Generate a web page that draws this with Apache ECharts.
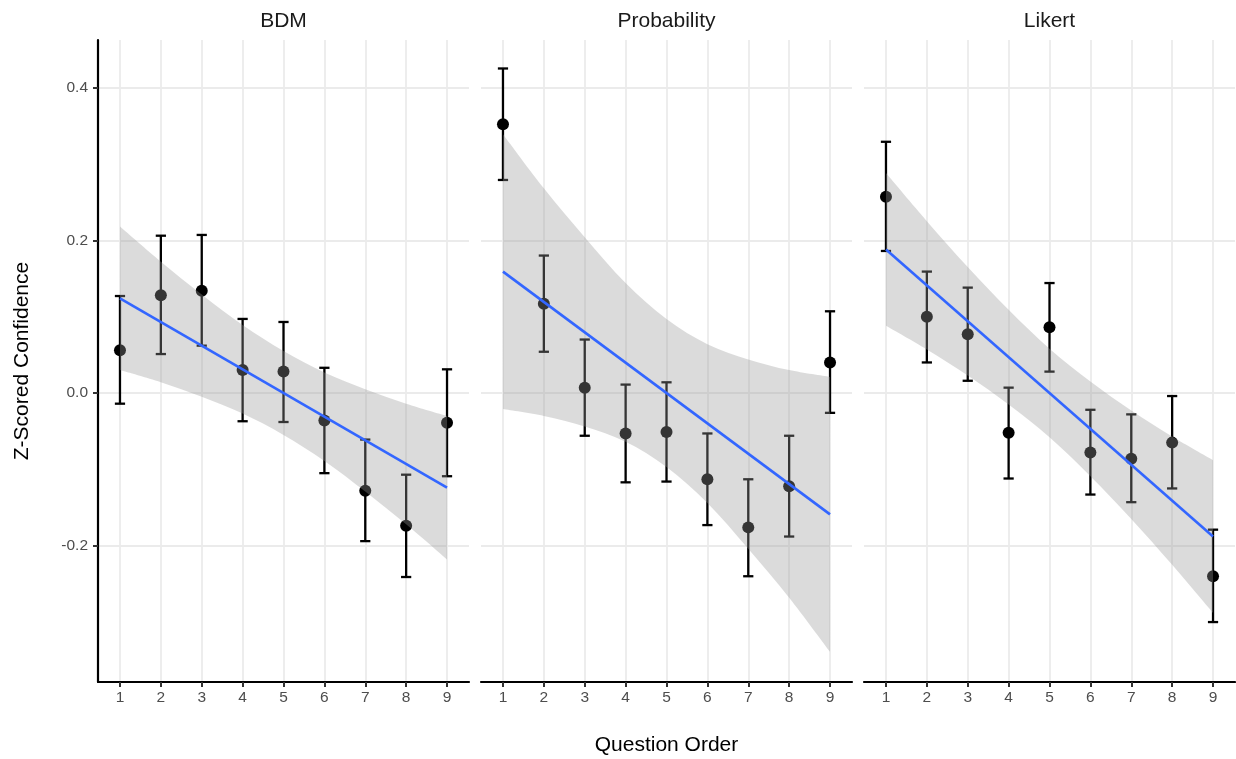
<!DOCTYPE html>
<html>
<head>
<meta charset="utf-8">
<title>Z-Scored Confidence by Question Order</title>
<script src="https://cdn.jsdelivr.net/npm/echarts@6/dist/echarts.min.js"></script>
<style>
  html, body { margin: 0; padding: 0; background: #ffffff; }
  #chart { width: 1236px; height: 759px; }
</style>
</head>
<body>
<div id="chart"></div>
<script>
// ---- data ----
const questionOrder = [1, 2, 3, 4, 5, 6, 7, 8, 9];
const panelNames = ['BDM', 'Probability', 'Likert'];
const xTicks = [1, 2, 3, 4, 5, 6, 7, 8, 9];
const yTicks = [-0.2, 0.0, 0.2, 0.4];

// mean confidence with error-bar limits
const bdmMean  = [0.056, 0.128, 0.134, 0.030, 0.028, -0.036, -0.128, -0.174, -0.039];
const bdmLow   = [-0.014, 0.051, 0.062, -0.037, -0.038, -0.105, -0.194, -0.241, -0.109];
const bdmHigh  = [0.127, 0.206, 0.207, 0.097, 0.093, 0.033, -0.061, -0.107, 0.031];

const probMean = [0.352, 0.117, 0.007, -0.053, -0.051, -0.113, -0.176, -0.122, 0.040];
const probLow  = [0.279, 0.054, -0.056, -0.117, -0.116, -0.173, -0.240, -0.188, -0.026];
const probHigh = [0.425, 0.180, 0.070, 0.011, 0.014, -0.053, -0.113, -0.056, 0.107];

const likMean  = [0.257, 0.100, 0.077, -0.052, 0.086, -0.078, -0.086, -0.065, -0.240];
const likLow   = [0.186, 0.040, 0.016, -0.112, 0.028, -0.133, -0.143, -0.125, -0.300];
const likHigh  = [0.329, 0.159, 0.138, 0.007, 0.144, -0.022, -0.028, -0.004, -0.179];

// linear fit (values at question 1 and 9) and its confidence band
const fitX = [1, 9];
const bdmFit  = [0.124, -0.124];
const probFit = [0.159, -0.159];
const likFit  = [0.188, -0.188];

const bdmBandHigh  = [0.218, 0.172, 0.129, 0.089, 0.055, 0.027, 0.005, -0.014, -0.030];
const bdmBandLow   = [0.030, 0.014, -0.005, -0.027, -0.055, -0.089, -0.129, -0.172, -0.218];
const probBandHigh = [0.339, 0.268, 0.204, 0.144, 0.097, 0.064, 0.044, 0.030, 0.021];
const probBandLow  = [-0.021, -0.030, -0.044, -0.064, -0.097, -0.144, -0.204, -0.268, -0.339];
const likBandHigh  = [0.288, 0.225, 0.165, 0.109, 0.058, 0.015, -0.023, -0.057, -0.088];
const likBandLow   = [0.088, 0.057, 0.023, -0.015, -0.058, -0.109, -0.165, -0.225, -0.288];

const panels = [
  { mean: bdmMean,  low: bdmLow,  high: bdmHigh,  fit: bdmFit,  bandHigh: bdmBandHigh,  bandLow: bdmBandLow },
  { mean: probMean, low: probLow, high: probHigh, fit: probFit, bandHigh: probBandHigh, bandLow: probBandLow },
  { mean: likMean,  low: likLow,  high: likHigh,  fit: likFit,  bandHigh: likBandHigh,  bandLow: likBandLow }
];

// ---- layout & style ----
const FONT = '"Liberation Sans", "Helvetica Neue", Arial, sans-serif';
const panelLeft = [98, 481, 864];
const panelWidth = 371;
const panelTop = 40;
const panelHeight = 642;
const xRange = [0.4625, 9.5375];
const yRange = [-0.3785, 0.4623];
const gridColor = '#ebebeb';
const bandFill = 'rgba(153,153,153,0.35)';
const capHalf = 0.125;

function curveThrough(pts, start) {
  let d = (start ? 'M' : 'L') + pts[0][0] + ',' + pts[0][1];
  for (let i = 0; i < pts.length - 1; i++) {
    const p0 = pts[Math.max(i - 1, 0)];
    const p1 = pts[i];
    const p2 = pts[i + 1];
    const p3 = pts[Math.min(i + 2, pts.length - 1)];
    const c1x = p1[0] + (p2[0] - p0[0]) / 6, c1y = p1[1] + (p2[1] - p0[1]) / 6;
    const c2x = p2[0] - (p3[0] - p1[0]) / 6, c2y = p2[1] - (p3[1] - p1[1]) / 6;
    d += 'C' + c1x + ',' + c1y + ',' + c2x + ',' + c2y + ',' + p2[0] + ',' + p2[1];
  }
  return d;
}

function bandRenderer(panel) {
  return function (params, api) {
    const top = questionOrder.map((x, i) => api.coord([x, panel.bandHigh[i]]));
    const bottom = questionOrder.map((x, i) => api.coord([x, panel.bandLow[i]])).reverse();
    const d = curveThrough(top, true) + curveThrough(bottom, false) + 'Z';
    return {
      type: 'path',
      shape: { pathData: d },
      style: { fill: bandFill, stroke: null }
    };
  };
}

function errorBarRenderer(params, api) {
  const x = api.value(0);
  const lo = api.coord([x, api.value(1)]);
  const hi = api.coord([x, api.value(2)]);
  const half = api.size([capHalf, 0])[0];
  const st = { stroke: '#000000', lineWidth: 2.3 };
  return {
    type: 'group',
    children: [
      { type: 'line', shape: { x1: lo[0], y1: lo[1], x2: hi[0], y2: hi[1] }, style: st },
      { type: 'line', shape: { x1: hi[0] - half, y1: hi[1], x2: hi[0] + half, y2: hi[1] }, style: st },
      { type: 'line', shape: { x1: lo[0] - half, y1: lo[1], x2: lo[0] + half, y2: lo[1] }, style: st }
    ]
  };
}

const grid = panelLeft.map(l => ({
  left: l, top: panelTop, width: panelWidth, height: panelHeight,
  containLabel: false, outerBoundsMode: 'none'
}));

const xAxis = panelLeft.map((l, i) => ({
  type: 'value', gridIndex: i, min: xRange[0], max: xRange[1],
  axisLine: { show: true, onZero: false, lineStyle: { color: '#000000', width: 2.2 } },
  axisTick: { show: true, customValues: xTicks, length: 5, lineStyle: { color: '#333333', width: 2 } },
  axisLabel: { show: true, customValues: xTicks, color: '#4d4d4d', fontSize: 15.5, fontFamily: FONT, margin: 8 },
  splitLine: { show: true, lineStyle: { color: gridColor, width: 1.8 } }
}));

const yAxis = panelLeft.map((l, i) => ({
  type: 'value', gridIndex: i, min: yRange[0], max: yRange[1],
  axisLine: { show: i === 0, onZero: false, lineStyle: { color: '#000000', width: 2.2 } },
  axisTick: { show: i === 0, customValues: yTicks, length: 5, lineStyle: { color: '#333333', width: 2 } },
  axisLabel: {
    show: i === 0, customValues: yTicks, color: '#4d4d4d', fontSize: 15.5, fontFamily: FONT, margin: 10,
    formatter: v => v.toFixed(1)
  },
  splitLine: { show: true, lineStyle: { color: gridColor, width: 1.8 } }
}));

const series = [];
panels.forEach((p, i) => {
  series.push({
    type: 'custom', xAxisIndex: i, yAxisIndex: i, z: 2, silent: true,
    renderItem: errorBarRenderer,
    encode: { x: 0, y: [1, 2] },
    data: questionOrder.map((x, k) => [x, p.low[k], p.high[k]])
  });
  series.push({
    type: 'scatter', xAxisIndex: i, yAxisIndex: i, z: 3, silent: true,
    symbol: 'circle', symbolSize: 12,
    itemStyle: { color: '#000000', opacity: 1 },
    data: questionOrder.map((x, k) => [x, p.mean[k]])
  });
  series.push({
    type: 'custom', xAxisIndex: i, yAxisIndex: i, z: 4, silent: true,
    renderItem: bandRenderer(p),
    data: [[questionOrder[0], p.bandLow[0]]]
  });
  series.push({
    type: 'line', xAxisIndex: i, yAxisIndex: i, z: 5, silent: true,
    symbol: 'none',
    lineStyle: { color: '#3366ff', width: 2.6 },
    data: fitX.map((x, k) => [x, p.fit[k]])
  });
});

const graphic = panelNames.map((name, i) => ({
  type: 'text',
  x: panelLeft[i] + panelWidth / 2, y: 21,
  silent: true,
  style: { text: name, fill: '#1a1a1a', fontSize: 21, fontFamily: FONT, align: 'center', verticalAlign: 'middle' }
}));
graphic.push({
  type: 'text', x: 22, y: panelTop + panelHeight / 2, rotation: Math.PI / 2, silent: true,
  style: { text: 'Z-Scored Confidence', fill: '#000000', fontSize: 21, fontFamily: FONT, align: 'center', verticalAlign: 'middle' }
});
graphic.push({
  type: 'text', x: (panelLeft[0] + panelLeft[2] + panelWidth) / 2, y: 745, silent: true,
  style: { text: 'Question Order', fill: '#000000', fontSize: 21, fontFamily: FONT, align: 'center', verticalAlign: 'middle' }
});

const chart = echarts.init(document.getElementById('chart'), null, { renderer: 'canvas' });
chart.setOption({
  animation: false,
  backgroundColor: '#ffffff',
  grid, xAxis, yAxis, series, graphic
});
</script>
</body>
</html>
